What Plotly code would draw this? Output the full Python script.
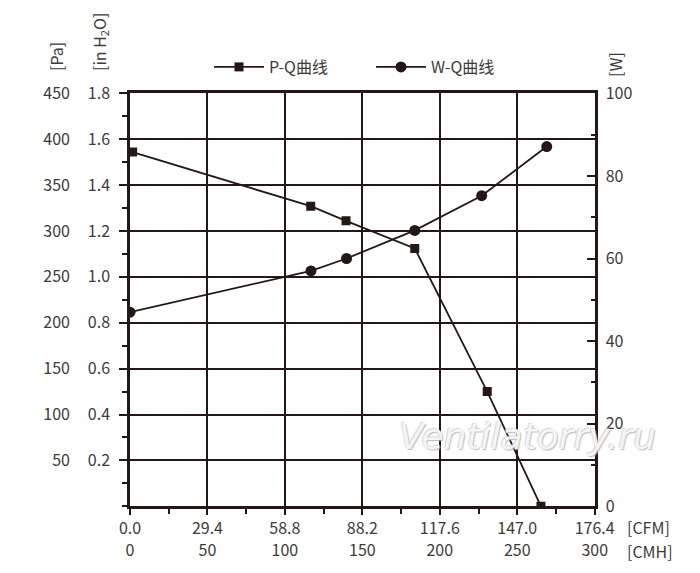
import plotly.graph_objects as go

# flow in CFM, pressure in Pa, power in W
pq_flow = [1.0, 68.6, 82.0, 108.1, 135.6, 156.0]
pq_pressure = [386, 327, 311, 281, 125, 0]
wq_flow = [0.0, 68.7, 82.2, 108.1, 133.5, 158.2]
wq_power = [47.0, 57.0, 60.0, 66.8, 75.2, 87.1]

cfm_ticks = [0.0, 29.4, 58.8, 88.2, 117.6, 147.0, 176.4]
cmh_ticks = [0, 50, 100, 150, 200, 250, 300]
pa_ticks = [50, 100, 150, 200, 250, 300, 350, 400, 450]
inh2o_ticks = [0.2, 0.4, 0.6, 0.8, 1.0, 1.2, 1.4, 1.6, 1.8]
w_ticks = [0, 20, 40, 60, 80, 100]

PA_PER_INH2O = 250.0

ink = "#231815"
txt = "#3e3a39"
fnt = "Noto Sans CJK SC"
W, H = 700, 573
OFF = 8  # page body margin


def px(x):
    return (x - OFF) / W


def py(y):
    return (H - (y - OFF)) / H


fig = go.Figure()
fig.add_trace(go.Scatter(x=pq_flow, y=[p / PA_PER_INH2O for p in pq_pressure], name="P-Q曲线",
                         mode="lines+markers",
                         line=dict(color=ink, width=1.8),
                         marker=dict(symbol="square", size=9, color=ink),
                         xaxis="x", yaxis="y"))
fig.add_trace(go.Scatter(x=wq_flow, y=wq_power, name="W-Q曲线", mode="lines+markers",
                         line=dict(color=ink, width=1.8),
                         marker=dict(symbol="circle", size=11, color=ink),
                         xaxis="x", yaxis="y2"))
# empty helper so the CMH / Pa label axes get drawn
fig.add_trace(go.Scatter(x=[cmh_ticks[0], cmh_ticks[-1]], y=[0, pa_ticks[-1]], mode="markers",
                         marker=dict(opacity=0), showlegend=False, hoverinfo="skip",
                         xaxis="x2", yaxis="y3"))

fig.update_layout(
    width=W, height=H,
    margin=dict(l=0, r=0, t=0, b=0, autoexpand=False),
    paper_bgcolor="white", plot_bgcolor="white",
    font=dict(family=fnt, size=16, color=txt),
    showlegend=True,
    legend=dict(orientation="h", x=px(209), y=py(67), xanchor="left", yanchor="middle",
                itemwidth=50, entrywidth=97, font=dict(size=16, color=txt), bgcolor="rgba(0,0,0,0)"),
    xaxis=dict(domain=[px(130), px(594.7)], range=[0, 176.4], tickvals=cfm_ticks,
               ticktext=["%.1f" % v for v in cfm_ticks],
               ticks="outside", ticklen=6, tickwidth=2, tickcolor=ink,
               minor=dict(tickmode="linear", tick0=0, dtick=14.7, ticks="outside",
                          ticklen=5, tickwidth=2, tickcolor=ink, showgrid=False),
               showgrid=True, gridcolor=ink, gridwidth=2,
               showline=True, linecolor=ink, linewidth=2.5, mirror=True,
               zeroline=False, anchor="y"),
    xaxis2=dict(overlaying="x", range=[0, 300], tickvals=cmh_ticks,
                showline=False, showgrid=False, zeroline=False, ticks="",
                anchor="free", position=(H - 530.7) / H, side="bottom"),
    yaxis=dict(domain=[py(506.3), py(93.3)], range=[0, 1.8], tickvals=inh2o_ticks,
               ticktext=["%.1f" % v for v in inh2o_ticks],
               ticks="outside", ticklen=8, tickwidth=2, tickcolor=ink,
               minor=dict(tickmode="linear", tick0=0, dtick=0.1, ticks="outside",
                          ticklen=5, tickwidth=2, tickcolor=ink, showgrid=False),
               showgrid=True, gridcolor=ink, gridwidth=2,
               showline=True, linecolor=ink, linewidth=2.5, mirror=True,
               zeroline=False, anchor="x", ticklabelstandoff=6),
    yaxis2=dict(overlaying="y", side="right", range=[0, 100], tickvals=w_ticks,
                ticks="inside", ticklen=8, tickwidth=2, tickcolor=ink,
                minor=dict(tickmode="linear", tick0=0, dtick=10, ticks="inside",
                           ticklen=4, tickwidth=2, tickcolor=ink, showgrid=False),
                showgrid=False, zeroline=False, showline=False, anchor="x",
                ticklabelstandoff=10),
    yaxis3=dict(overlaying="y", side="left", range=[0, 450], tickvals=pa_ticks,
                showgrid=False, zeroline=False, showline=False, ticks="",
                anchor="free", position=62 / W),
)

ann = [
    ("[Pa]", 56, 57),
    ("[in H<sub>2</sub>O]", 100, 42),
    ("[W]", 615, 65),
]
for t, ax, ay in ann:
    fig.add_annotation(text=t, x=px(ax), y=py(ay), xref="paper", yref="paper",
                       xanchor="center", yanchor="middle",
                       showarrow=False, textangle=-90, font=dict(size=16, color=txt))
for t, ay in [("[CFM]", 526.7), ("[CMH]", 550.7)]:
    fig.add_annotation(text=t, x=px(625), y=py(ay), xref="paper", yref="paper",
                       xanchor="left", yanchor="middle", showarrow=False,
                       font=dict(size=16, color=txt))

# watermark
fig.add_annotation(text="Ventilatorry.ru", x=px(527), y=py(436), xref="paper", yref="paper",
                   xanchor="center", yanchor="middle", showarrow=False,
                   font=dict(family="DejaVu Sans", size=36, style="italic", color="rgba(255,255,255,0.85)",
                             shadow="1px 1px 1px #b0b0b0, -1px -1px 1px #d0d0d0"))

fig.write_html("out.html")
